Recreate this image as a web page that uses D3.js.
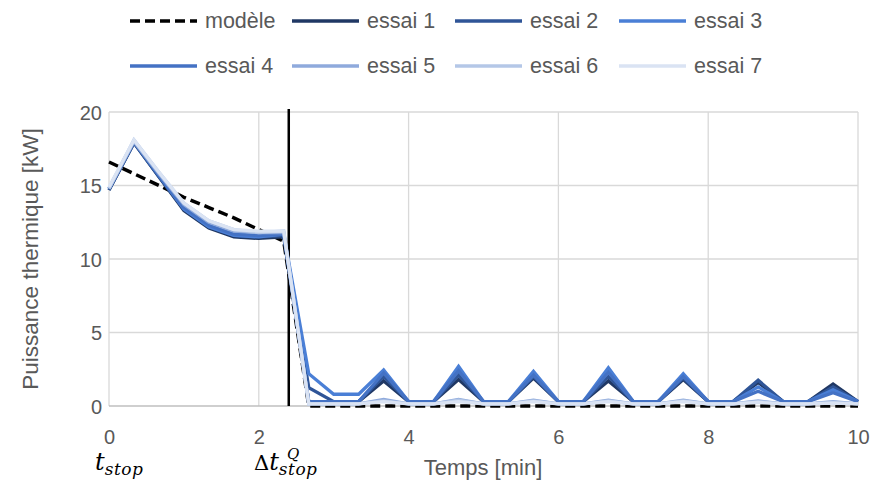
<!DOCTYPE html>
<html>
<head>
<meta charset="utf-8">
<script src="https://cdn.jsdelivr.net/npm/d3@7"></script>
<style>
  html, body { margin: 0; padding: 0; background: #fff; }
  svg { display: block; }
</style>
</head>
<body>
<svg id="chart" width="871" height="484"></svg>
<script>
// ---- data ----
const time = [0,0.333,0.667,1,1.333,1.667,2,2.333,2.667,3,3.333,3.667,4,4.333,4.667,5,5.333,5.667,6,6.333,6.667,7,7.333,7.667,8,8.333,8.667,9,9.333,9.667,10];

const modele = [16.6,15.8,15.0,14.2,13.5,12.8,12.0,11.2,0,0,0,0,0,0,0,0,0,0,0,0,0,0,0,0,0,0,0,0,0,0,0];
const essai1 = [14.7,17.9,15.6,13.3,12.1,11.5,11.4,11.5,0.3,0.3,0.3,1.7,0.3,0.3,1.8,0.3,0.3,1.9,0.3,0.3,1.7,0.3,0.3,1.8,0.3,0.3,1.6,0.3,0.3,1.5,0.3];
const essai2 = [14.7,17.9,15.6,13.4,12.2,11.6,11.5,11.6,1.25,0.3,0.3,2.0,0.3,0.3,2.1,0.3,0.3,2.0,0.3,0.3,2.0,0.3,0.3,1.9,0.3,0.3,1.75,0.3,0.3,1.3,0.3];
const essai3 = [14.8,18.0,15.7,13.4,12.2,11.6,11.5,11.7,2.2,0.8,0.8,2.45,0.3,0.3,2.7,0.3,0.3,2.35,0.3,0.3,2.6,0.3,0.3,2.2,0.3,0.3,1.3,0.3,0.3,1.1,0.3];
const essai4 = [14.8,18.0,15.7,13.5,12.3,11.7,11.6,11.7,0.3,0.3,0.3,2.25,0.3,0.3,2.4,0.3,0.3,2.1,0.3,0.3,2.3,0.3,0.3,2.0,0.3,0.3,1.0,0.3,0.3,0.9,0.3];
const essai5 = [14.8,18.0,15.8,13.7,12.5,11.9,11.8,11.8,0.15,0.15,0.15,0.45,0.15,0.15,0.45,0.15,0.15,0.4,0.15,0.15,0.4,0.15,0.15,0.4,0.15,0.15,0.35,0.15,0.15,0.3,0.15];
const essai6 = [14.8,18.1,15.9,13.8,12.6,12.0,11.8,11.9,0.15,0.15,0.15,0.35,0.15,0.15,0.4,0.15,0.15,0.35,0.15,0.15,0.35,0.15,0.15,0.35,0.15,0.15,0.3,0.15,0.15,0.25,0.15];
const essai7 = [14.9,18.1,15.9,13.8,12.6,12.0,11.9,11.9,0.15,0.15,0.15,0.3,0.15,0.15,0.3,0.15,0.15,0.3,0.15,0.15,0.3,0.15,0.15,0.3,0.15,0.15,0.25,0.15,0.15,0.2,0.15];

const seriesNames = ["modèle","essai 1","essai 2","essai 3","essai 4","essai 5","essai 6","essai 7"];
const seriesData = [modele, essai1, essai2, essai3, essai4, essai5, essai6, essai7];
const seriesColors = ["#000000","#203864","#2F5597","#4A7FD6","#4472C4","#8FAADC","#B4C7E7","#DAE3F3"];

const xTicks = [0,2,4,6,8,10];
const yTicks = [0,5,10,15,20];
const markerTime = 2.4;
const xTitle = "Temps [min]";
const yTitle = "Puissance thermique [kW]";

// ---- layout ----
const sans = "'Liberation Sans', Arial, sans-serif";
const serif = "'DejaVu Serif', serif";
const grey = "#595959";
const svg = d3.select("#chart");
const L = 109, R = 858, T = 112, B = 406;
const x = d3.scaleLinear().domain([0,10]).range([L,R]);
const y = d3.scaleLinear().domain([0,20]).range([B,T]);

// grid
const g = svg.append("g");
g.selectAll("line.vg").data(xTicks).enter().append("line")
  .attr("x1", d => x(d)).attr("x2", d => x(d)).attr("y1", T).attr("y2", B)
  .attr("stroke", "#d9d9d9").attr("stroke-width", 1.3);
g.selectAll("line.hg").data(yTicks).enter().append("line")
  .attr("x1", L).attr("x2", R).attr("y1", d => y(d)).attr("y2", d => y(d))
  .attr("stroke", d => d === 0 ? "#bfbfbf" : "#d9d9d9").attr("stroke-width", 1.3);

// axes (labels only)
const xAxis = d3.axisBottom(x).tickValues(xTicks).tickSize(0).tickPadding(0);
const xa = svg.append("g").attr("transform", `translate(0,${B})`).call(xAxis);
xa.select(".domain").remove();
xa.selectAll("text").attr("y", 31).attr("dy", null)
  .style("font-size", "20px").style("fill", grey).style("font-family", sans)
  .attr("dominant-baseline", "central");

const yAxis = d3.axisLeft(y).tickValues(yTicks).tickSize(0).tickPadding(0);
const ya = svg.append("g").attr("transform", `translate(${L},0)`).call(yAxis);
ya.select(".domain").remove();
ya.selectAll("text").attr("x", -7).attr("dy", null)
  .style("font-size", "20px").style("fill", grey).style("font-family", sans)
  .attr("dominant-baseline", "central");

// marker line
svg.append("line")
  .attr("x1", x(markerTime)).attr("x2", x(markerTime)).attr("y1", T - 3).attr("y2", B)
  .attr("stroke", "#000").attr("stroke-width", 2.5);

// series (model drawn first, beneath the measurements)
const line = d3.line().x((d,i) => x(time[i])).y(d => y(d));
[0,1,2,3,4,5,6,7].forEach(k => {
  svg.append("path")
    .attr("d", line(seriesData[k]))
    .attr("fill", "none")
    .attr("stroke", seriesColors[k])
    .attr("stroke-width", k === 0 ? 3.5 : 3.3)
    .attr("stroke-linejoin", k === 0 ? "round" : "miter")
    .attr("stroke-dasharray", k === 0 ? "10,5" : null);
});

// legend
const colX = [130, 292, 455, 619];
const rowY = [21, 66];
seriesNames.forEach((name, i) => {
  const cx = colX[i % 4], cy = rowY[Math.floor(i / 4)];
  const lg = svg.append("g");
  lg.append("line").attr("x1", cx).attr("x2", cx + 67).attr("y1", cy).attr("y2", cy)
    .attr("stroke", seriesColors[i]).attr("stroke-width", 3.5)
    .attr("stroke-dasharray", i === 0 ? "10,5" : null);
  lg.append("text").attr("x", cx + 75).attr("y", cy).attr("dominant-baseline", "central")
    .style("font-size", "21.5px").style("fill", grey).style("font-family", sans).text(name);
});

// titles
svg.append("text").attr("x", 483).attr("y", 467).attr("text-anchor", "middle")
  .attr("dominant-baseline", "central")
  .style("font-size", "22px").style("fill", grey).style("font-family", sans).text(xTitle);
svg.append("text").attr("transform", "translate(30,259) rotate(-90)")
  .attr("text-anchor", "middle").attr("dominant-baseline", "central")
  .style("font-size", "22.5px").style("fill", grey).style("font-family", sans).text(yTitle);

// math annotations
const t1 = svg.append("text").attr("x", 95).attr("y", 470)
  .style("font-family", serif).style("fill", "#000");
t1.append("tspan").style("font-style", "italic").style("font-size", "24px").text("t");
t1.append("tspan").style("font-style", "italic").style("font-size", "17px").attr("dy", 5)
  .style("letter-spacing", "0.5px").text("stop");

const t2 = svg.append("text").attr("x", 254).attr("y", 470)
  .style("font-family", serif).style("fill", "#000");
t2.append("tspan").style("font-size", "21px").text("Δ");
t2.append("tspan").style("font-style", "italic").style("font-size", "24px").text("t");
t2.append("tspan").style("font-style", "italic").style("font-size", "17px").attr("dy", 5)
  .style("letter-spacing", "0.5px").text("stop");
svg.append("text").attr("x", 287).attr("y", 459)
  .style("font-family", serif).style("font-style", "italic").style("font-size", "15px")
  .style("fill", "#000").text("Q");
</script>
</body>
</html>
